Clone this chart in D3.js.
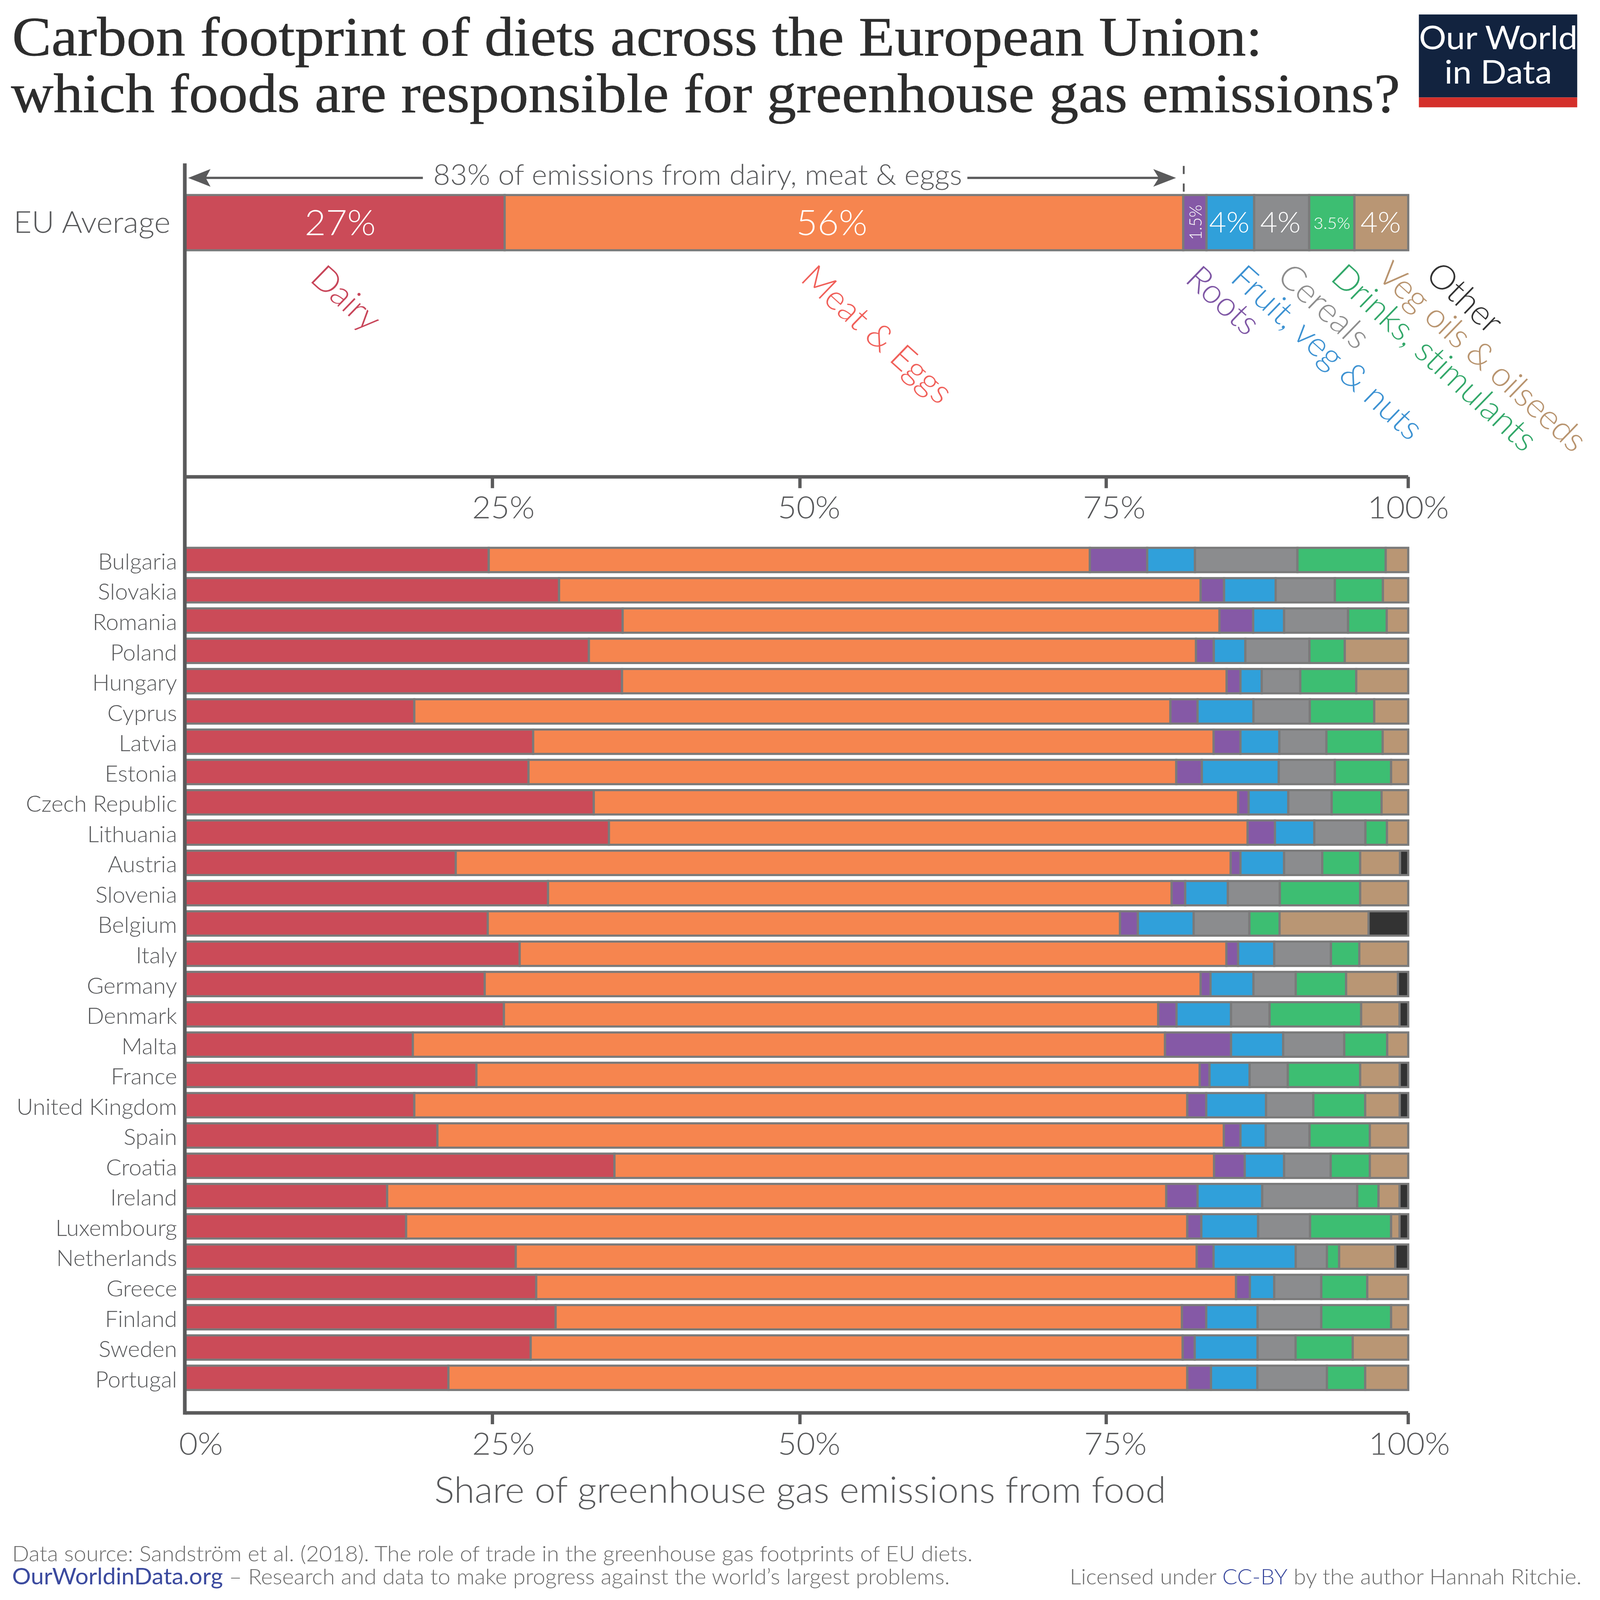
<!DOCTYPE html>
<html>
<head>
<meta charset="utf-8">
<script src="https://cdn.jsdelivr.net/npm/d3@7"></script>
<style>
  html, body { margin: 0; padding: 0; background: #fff; width: 100%; height: 100%; overflow: hidden; }
  svg { display: block; width: 100vw; height: 100vh; }
  text { font-family: Lato, "Noto Sans", sans-serif; font-weight: 300; }
</style>
</head>
<body>
<div id="chart"></div>
<script>
var countries = ["Bulgaria","Slovakia","Romania","Poland","Hungary","Cyprus","Latvia","Estonia","Czech Republic","Lithuania","Austria","Slovenia","Belgium","Italy","Germany","Denmark","Malta","France","United Kingdom","Spain","Croatia","Ireland","Luxembourg","Netherlands","Greece","Finland","Sweden","Portugal"];

// shares of food emissions (%), same order as countries
var dairy   = [24.8,30.55,35.75,32.99,35.7,18.71,28.43,28.05,33.39,34.63,22.1,29.65,24.72,27.33,24.47,26.04,18.59,23.79,18.71,20.6,35.08,16.49,18.04,27.01,28.68,30.27,28.23,21.5];
var meat    = [49.16,52.47,48.81,49.65,49.45,61.84,55.65,52.98,52.7,52.23,63.38,51.0,51.71,57.8,58.55,53.51,61.52,59.16,63.22,64.32,49.04,63.72,63.89,55.69,57.24,51.22,53.32,60.43];
var roots   = [4.69,1.92,2.76,1.46,1.13,2.22,2.2,2.09,0.86,2.24,0.8,1.11,1.46,0.96,0.81,1.5,5.4,0.8,1.55,1.36,2.51,2.56,1.15,1.38,1.13,1.99,0.99,1.94];
var fruit   = [3.91,4.22,2.53,2.58,1.74,4.57,3.18,6.29,3.24,3.22,3.57,3.49,4.56,2.95,3.51,4.46,4.26,3.28,4.89,2.07,3.22,5.29,4.64,6.72,1.99,4.2,5.14,3.79];
var cereals = [8.38,4.84,5.23,5.24,3.15,4.61,3.85,4.59,3.55,4.18,3.12,4.25,4.56,4.64,3.46,3.15,5.0,3.12,3.87,3.58,3.81,7.77,4.25,2.55,3.85,5.21,3.11,5.69];
var drinks  = [7.22,3.93,3.16,2.89,4.58,5.27,4.6,4.6,4.08,1.76,3.1,6.57,2.47,2.32,4.12,7.49,3.51,5.92,4.24,4.93,3.2,1.74,6.63,1.0,3.76,5.71,4.67,3.13];
var vegOils = [1.84,2.07,1.76,5.19,4.25,2.78,2.09,1.4,2.18,1.74,3.26,3.93,7.28,4.0,4.24,3.14,1.72,3.24,2.83,3.14,3.14,1.72,0.69,4.6,3.35,1.4,4.54,3.52];
var other   = [0,0,0,0,0,0,0,0,0,0,0.67,0,3.24,0,0.84,0.71,0,0.69,0.69,0,0,0.71,0.71,1.05,0,0,0,0];

var euAverage = [26.1,55.5,1.9,3.9,4.5,3.7,4.4,0];
var euValueLabels = ["27%","56%","1.5%","4%","4%","3.5%","4%"];

var seriesKeys = ["dairy","meat","roots","fruit","cereals","drinks","vegOils","other"];
var seriesNames = ["Dairy","Meat & Eggs","Roots","Fruit, veg & nuts","Cereals","Drinks, stimulants","Veg oils & oilseeds","Other"];
var fillColors = ["#CB4B58","#F6854F","#8559A6","#30A0DA","#8B8C8E","#3DBE72","#B99674","#333333"];
var nameColors = ["#C8465A","#F0605A","#7F57A5","#3D92D2","#8E8E8E","#33A86A","#B8946F","#333333"];

var tickValues = [0,25.1,50.25,75.3,100];
var tickLabels = ["0%","25%","50%","75%","100%"];

var columns = [dairy,meat,roots,fruit,cereals,drinks,vegOils,other];
var rows = countries.map(function(c, i) {
  var row = {country: c};
  seriesKeys.forEach(function(k, j) { row[k] = columns[j][i]; });
  return row;
});
var euRow = {country: "EU Average"};
seriesKeys.forEach(function(k, j) { euRow[k] = euAverage[j]; });

var W = 4355, H = 4533;
var GREY = "#5a5a5b", BORDER = "#7a7a7a", TEXT = "#58595b";

// the window may not have the chart's shape, so the drawing fills whatever it gets
var svg = d3.select("#chart").append("svg")
  .attr("viewBox", "0 0 " + W + " " + H)
  .attr("preserveAspectRatio", "none");

var x = d3.scaleLinear().domain([0,100]).range([505,3833]);
var y = d3.scaleBand().domain(countries).range([1552,3938]).paddingInner(0.196);
var yEu = d3.scaleBand().domain(["EU Average"]).range([552.5,709]);
var color = d3.scaleOrdinal().domain(seriesKeys).range(fillColors);

var stack = d3.stack().keys(seriesKeys);

function drawBars(data, yScale, cls) {
  var g = svg.append("g").attr("class", cls);
  g.selectAll("g").data(stack(data)).enter().append("g")
    .attr("fill", function(d) { return color(d.key); })
    .selectAll("rect")
    .data(function(d) { return d.filter(function(p) { return p[1] - p[0] > 0; }); })
    .enter().append("rect")
    .attr("x", function(d) { return x(d[0]); })
    .attr("y", function(d) { return yScale(d.data.country); })
    .attr("width", function(d) { return x(d[1]) - x(d[0]); })
    .attr("height", yScale.bandwidth())
    .attr("stroke", BORDER)
    .attr("stroke-width", 6);
}
drawBars(rows, y, "countries");
drawBars([euRow], yEu, "eu");

// axes
function drawXAxis(yPos, shifts, hideFirst) {
  var axis = d3.axisBottom(x)
    .tickValues(tickValues)
    .tickFormat(function(d, i) { return tickLabels[i]; })
    .tickSize(32)
    .tickSizeOuter(0)
    .offset(0);
  var g = svg.append("g").attr("transform", "translate(0," + yPos + ")").call(axis);
  g.select(".domain").attr("stroke", GREY).attr("stroke-width", 10);
  g.selectAll(".tick line").attr("stroke", GREY).attr("stroke-width", 9);
  g.selectAll(".tick text")
    .attr("y", 118).attr("dy", 0)
    .attr("x", function(d, i) { return shifts[i]; })
    .attr("fill", TEXT)
    .style("font-size", "88px")
    .style("font-family", "Lato");
  g.selectAll(".tick").filter(function(d) { return d === 0; }).select("line").remove();
  if (hideFirst) g.selectAll(".tick").filter(function(d) { return d === 0; }).remove();
}
drawXAxis(4003, [42,30,25,25,3], false);
drawXAxis(1351, [0,30,25,22,0], true);

svg.append("line").attr("x1", 503).attr("x2", 503).attr("y1", 463).attr("y2", 4008)
  .attr("stroke", GREY).attr("stroke-width", 10);

var yAxis = d3.axisLeft(y).tickSize(0).tickPadding(23).offset(0);
var gy = svg.append("g").attr("transform", "translate(505,0)").call(yAxis);
gy.select(".domain").remove();
gy.selectAll("text").attr("y", 27).attr("dy", 0).attr("fill", TEXT)
  .style("font-size", "62.5px").style("font-family", "Lato");

function label(t, px, py, size, fill, anchor) {
  return svg.append("text").attr("x", px).attr("y", py)
    .attr("font-size", size).attr("fill", fill || TEXT)
    .attr("text-anchor", anchor || "start").text(t);
}

label("EU Average", 464, 660, 85, TEXT, "end");
label("Share of greenhouse gas emissions from food", 2178, 4257, 102, TEXT, "middle");

// values printed inside the EU bar
label(euValueLabels[0], 926, 666, 100, "#fff", "middle");
label(euValueLabels[1], 2264, 666, 100, "#fff", "middle");
label(euValueLabels[3], 3346, 659, 81, "#fff", "middle");
label(euValueLabels[4], 3485, 659, 81, "#fff", "middle");
label(euValueLabels[5], 3625, 648, 46, "#fff", "middle");
label(euValueLabels[6], 3758, 659, 81, "#fff", "middle");
svg.append("text").attr("transform", "translate(3270,630) rotate(-90)")
  .attr("font-size", 46).attr("fill", "#fff").attr("text-anchor", "middle").text(euValueLabels[2]);

// rotated category names
var nameStarts = [[840,794],[2175,794],[3222,796],[3345,794],[3472,789],[3618,791],[3744,784],[3876,785]];
svg.append("g").selectAll("text").data(seriesNames).enter().append("text")
  .attr("transform", function(d, i) { return "translate(" + nameStarts[i][0] + "," + nameStarts[i][1] + ") rotate(43)"; })
  .attr("font-size", 96)
  // veg oils runs up to the right edge, tighten it a bit so it stays inside
  .attr("letter-spacing", function(d) { return d === "Veg oils & oilseeds" ? -1.8 : -0.5; })
  .attr("fill", function(d, i) { return nameColors[i]; })
  .text(function(d) { return d; });

// bracket above the EU bar
label("83% of emissions from dairy, meat & eggs", 1179, 524, 80, TEXT);
var arrowY = 504;
svg.append("line").attr("x1", 540).attr("x2", 1151).attr("y1", arrowY).attr("y2", arrowY)
  .attr("stroke", GREY).attr("stroke-width", 6.5);
svg.append("line").attr("x1", 2633).attr("x2", 3170).attr("y1", arrowY).attr("y2", arrowY)
  .attr("stroke", GREY).attr("stroke-width", 6.5);
svg.append("path").attr("fill", GREY)
  .attr("d", d3.line()([[512,arrowY],[573,arrowY-25],[560,arrowY],[573,arrowY+25]]) + "Z");
svg.append("path").attr("fill", GREY)
  .attr("d", d3.line()([[3201,arrowY],[3139,arrowY-25],[3154,arrowY],[3139,arrowY+25]]) + "Z");
svg.append("line").attr("x1", x(81.64)).attr("x2", x(81.64)).attr("y1", 470).attr("y2", 549)
  .attr("stroke", GREY).attr("stroke-width", 5).attr("stroke-dasharray", "23,27");

// title
[["Carbon footprint of diets across the European Union:",33,157,3403],
 ["which foods are responsible for greenhouse gas emissions?",30,318,3781]].forEach(function(t) {
  svg.append("text").attr("x", t[1]).attr("y", t[2])
    .attr("textLength", t[3]).attr("lengthAdjust", "spacingAndGlyphs")
    .style("font-family", "'Liberation Serif', serif").style("font-weight", 400)
    .attr("font-size", 156).attr("fill", "#2d2d2d").attr("stroke", "#2d2d2d").attr("stroke-width", 1)
    .text(t[0]);
});

// logo
svg.append("rect").attr("x", 3862).attr("y", 41).attr("width", 431).attr("height", 235).attr("fill", "#12233F");
svg.append("rect").attr("x", 3862).attr("y", 276).attr("width", 431).attr("height", 28).attr("fill", "#D42F2A");
[["Our World",140],["in Data",237]].forEach(function(t) {
  svg.append("text").attr("x", 4078).attr("y", t[1]).attr("text-anchor", "middle")
    .style("font-weight", 400).attr("font-size", 93).attr("fill", "#fff").text(t[0]);
});

// footer
label("Data source: Sandström et al. (2018). The role of trade in the greenhouse gas footprints of EU diets.", 33, 4423, 61, "#6b6b6b");
var f = label("", 33, 4489, 61, "#6b6b6b");
f.append("tspan").attr("fill", "#3C4B9F").attr("font-size", 64).style("font-weight", 400).text("OurWorldinData.org");
f.append("tspan").text(" – Research and data to make progress against the world’s largest problems.");
var lic = label("", 4305, 4489, 61, "#6b6b6b", "end");
lic.append("tspan").text("Licensed under ");
lic.append("tspan").attr("fill", "#3C4B9F").text("CC-BY");
lic.append("tspan").text(" by the author Hannah Ritchie.");
</script>
</body>
</html>
